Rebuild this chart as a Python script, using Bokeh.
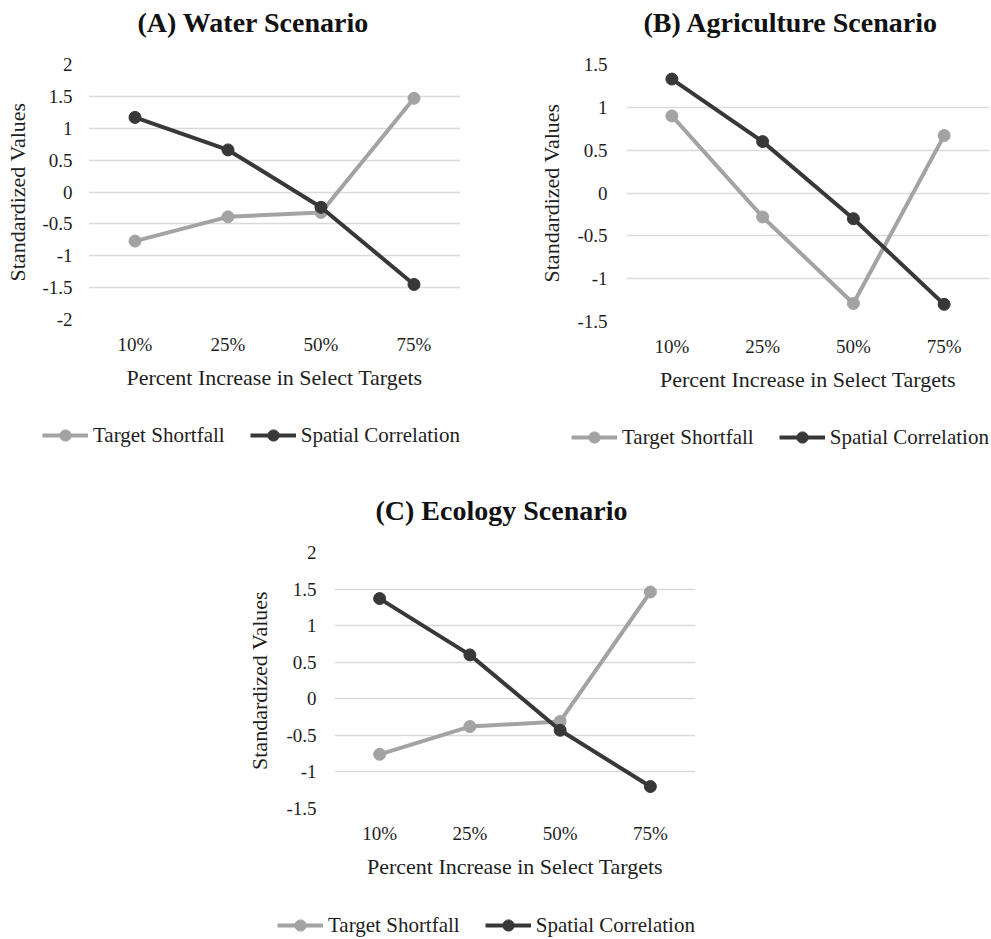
from bokeh.plotting import figure
from bokeh.models import FactorRange, Range1d, FixedTicker, Legend, LegendItem, Spacer, Title
from bokeh.layouts import column, row
from bokeh.embed import file_html
from bokeh.resources import INLINE

categories = ["10%", "25%", "50%", "75%"]
series_names = ["Target Shortfall", "Spatial Correlation"]

water_shortfall = [-0.77, -0.39, -0.32, 1.47]
water_spatial = [1.17, 0.66, -0.24, -1.45]
agri_shortfall = [0.90, -0.28, -1.29, 0.67]
agri_spatial = [1.33, 0.60, -0.30, -1.30]
eco_shortfall = [-0.76, -0.38, -0.31, 1.46]
eco_spatial = [1.37, 0.60, -0.43, -1.20]

water_ticks = [-2, -1.5, -1, -0.5, 0, 0.5, 1, 1.5, 2]
agri_ticks = [-1.5, -1, -0.5, 0, 0.5, 1, 1.5]
eco_ticks = [-1.5, -1, -0.5, 0, 0.5, 1, 1.5, 2]

FONT = "Liberation Serif"
TXT = "#1e1e1e"
LIGHT = "#a3a3a3"
DARK = "#383838"
STYLES = [(LIGHT, series_names[0]), (DARK, series_names[1])]


def chart(title, ticks, shortfall, spatial, width, height, bl, bt, br, bb,
          title_offset, label_standoff, ylabel_standoff):
    p = figure(x_range=FactorRange(*categories),
               y_range=Range1d(ticks[0], ticks[-1]),
               width=width, height=height, output_backend="svg",
               toolbar_location=None, title=None, frame_align=False,
               min_border_left=bl, min_border_top=bt,
               min_border_right=br, min_border_bottom=bb)
    p.outline_line_color = None
    # spacer title (closest to the frame), then the real title
    p.add_layout(Title(text=" ", text_font_size="22px", standoff=0), "above")
    p.add_layout(Title(text=title, align="left", offset=title_offset, standoff=0,
                       text_font=FONT, text_font_size="28px",
                       text_font_style="bold", text_color="#111111"), "above")

    p.xgrid.grid_line_color = None
    p.ygrid.grid_line_color = "#dadada"
    p.ygrid.grid_line_width = 1.6
    p.yaxis.ticker = FixedTicker(ticks=ticks)
    p.yaxis.major_label_overrides = {t: f"{t:g}" for t in ticks}

    for ax in (p.xaxis, p.yaxis):
        ax.axis_line_color = None
        ax.major_tick_line_color = None
        ax.minor_tick_line_color = None
        ax.major_tick_out = 0
        ax.major_tick_in = 0
        ax.minor_tick_out = 0
        ax.minor_tick_in = 0
        ax.major_label_text_font = FONT
        ax.major_label_text_font_size = "19px"
        ax.major_label_text_color = TXT
        ax.axis_label_text_font = FONT
        ax.axis_label_text_font_size = "22px"
        ax.axis_label_text_font_style = "normal"
        ax.axis_label_text_color = TXT
    p.xaxis.axis_label = "Percent Increase in Select Targets"
    p.yaxis.axis_label = "Standardized Values"
    p.xaxis.major_label_standoff = 14
    p.xaxis.axis_label_standoff = 7
    p.yaxis.major_label_standoff = label_standoff
    p.yaxis.axis_label_standoff = ylabel_standoff

    for vals, (color, name) in zip((shortfall, spatial), STYLES):
        p.line(categories, vals, line_color=color, line_width=4)
        p.scatter(categories, vals, size=12, fill_color=color, line_color=color)
    return p


def legend_fig(width, height, loc):
    p = figure(width=width, height=height, output_backend="svg",
               toolbar_location=None, x_axis_type=None, y_axis_type=None,
               x_range=Range1d(0, 1), y_range=Range1d(0, 1), frame_align=False,
               min_border_left=0, min_border_right=0,
               min_border_top=0, min_border_bottom=0)
    p.outline_line_color = None
    p.xgrid.grid_line_color = None
    p.ygrid.grid_line_color = None
    items = []
    for color, name in STYLES:
        # legend-only renderers: their single point lies outside the visible range
        l = p.line([-5], [-5], line_color=color, line_width=4)
        s = p.scatter([-5], [-5], size=12, fill_color=color, line_color=color)
        items.append(LegendItem(label=name, renderers=[l, s]))
    leg = Legend(items=items, location=loc, orientation="horizontal",
                 padding=0, margin=0, spacing=25, label_standoff=5,
                 glyph_width=46, glyph_height=28, label_height=20,
                 border_line_color=None, background_fill_alpha=0,
                 label_text_font=FONT, label_text_font_size="21px",
                 label_text_color=TXT)
    p.add_layout(leg, "center")
    return p


pA = chart("(A) Water Scenario", water_ticks, water_shortfall, water_spatial,
           536, 423, 88, 64, 76, 104, 49, 16, 9)
pB = chart("(B) Agriculture Scenario", agri_ticks, agri_shortfall, agri_spatial,
           455, 423, 85, 64, 2, 102, 17, 19, 10)
pC = chart("(C) Ecology Scenario", eco_ticks, eco_shortfall, eco_spatial,
           471, 444, 86, 84, 20, 104, 41, 18, 11)
lA = legend_fig(536, 45, (42, 19))
lB = legend_fig(455, 45, (35, 17))
lC = legend_fig(471, 27, (33, 0))

layout = column(row(column(pA, lA), column(pB, lB)),
                row(Spacer(width=244, height=471), column(pC, lC)))

open("out.html", "w").write(file_html(layout, INLINE))
